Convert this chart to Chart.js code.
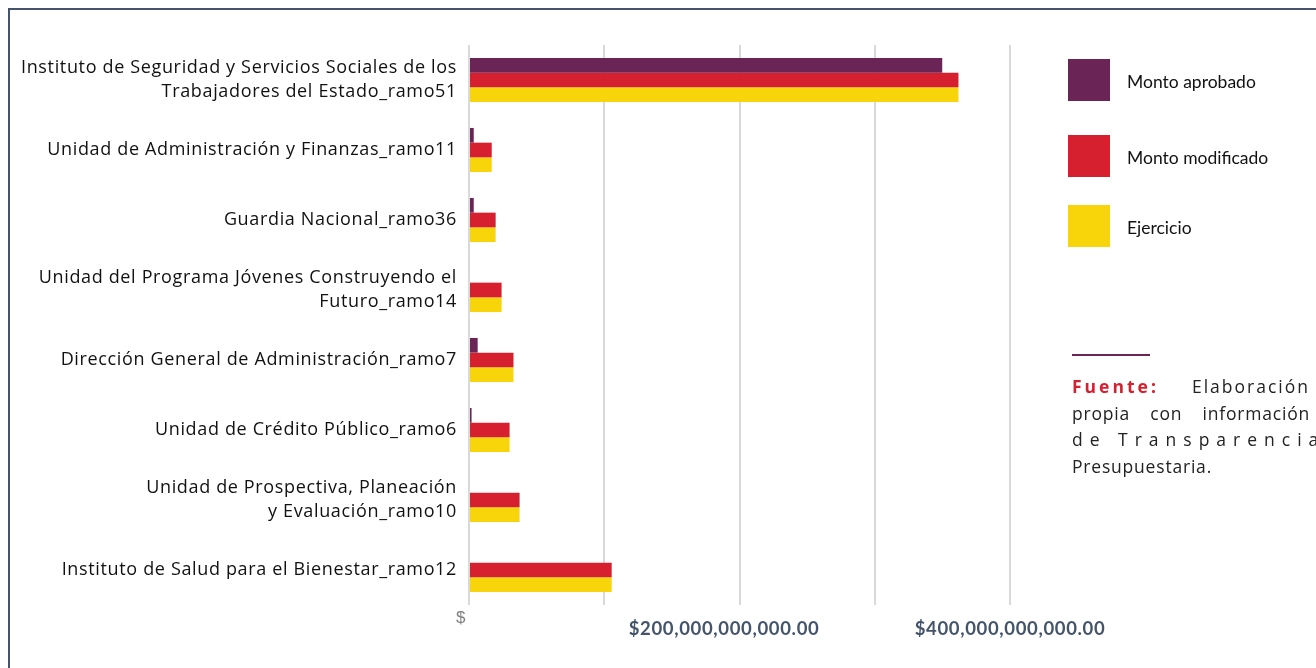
<!DOCTYPE html>
<html>
<head>
<meta charset="utf-8">
<script src="https://cdn.jsdelivr.net/npm/chart.js@4"></script>
<style>
  body { margin: 0; background: #fff; overflow: hidden; }
  #frame { position: absolute; left: 8px; top: 8px; width: 1400px; height: 700px; border: 2px solid #44546a; }
  #wrap { position: absolute; left: 0; top: 0; width: 1316px; height: 668px; }
  .leg { position: absolute; left: 1068px; font-family: Lato, sans-serif; font-size: 17.5px; color: #111; }
  .leg span { position: absolute; width: 42px; height: 42px; left: 0; top: 0; }
  .leg b { position: absolute; left: 59px; top: 12px; font-weight: normal; white-space: nowrap; }
  #rule { position: absolute; left: 1072px; top: 354px; width: 78px; height: 2px; background: #6b2456; }
  #note { position: absolute; left: 1072px; top: 373px; width: 238px; font-family: "Open Sans", sans-serif; font-size: 17.5px; line-height: 26.5px; color: #222; letter-spacing: 0.8px; }
  #note div { text-align: justify; text-align-last: justify; white-space: nowrap; }
  #note .last { text-align-last: left; }
</style>
</head>
<body>
<div id="frame"></div>
<div id="wrap"><canvas id="mycanvas" width="1316" height="668"></canvas></div>
<div class="leg" style="top:59px"><span style="background:#6b2456"></span><b>Monto aprobado</b></div>
<div class="leg" style="top:135px"><span style="background:#d6202f"></span><b>Monto modificado</b></div>
<div class="leg" style="top:205px"><span style="background:#f8d50a"></span><b>Ejercicio</b></div>
<div id="rule"></div>
<div id="note">
  <div><span style="color:#d6202f;font-weight:bold;letter-spacing:3px">Fuente:</span> <span style="letter-spacing:2px">Elaboración</span></div>
  <div>propia con información</div>
  <div style="letter-spacing:7px">de Transparencia</div>
  <div class="last">Presupuestaria.</div>
</div>
<script>
var categories = [
  ['Instituto de Seguridad y Servicios Sociales de los', 'Trabajadores del Estado_ramo51'],
  'Unidad de Administración y Finanzas_ramo11',
  'Guardia Nacional_ramo36',
  ['Unidad del Programa Jóvenes Construyendo el', 'Futuro_ramo14'],
  'Dirección General de Administración_ramo7',
  'Unidad de Crédito Público_ramo6',
  ['Unidad de Prospectiva, Planeación', 'y Evaluación_ramo10'],
  'Instituto de Salud para el Bienestar_ramo12'
];
var montoAprobado = [349.9e9, 3.5e9, 3.5e9, 0, 6.4e9, 1.9e9, 0, 0];
var montoModificado = [361.9e9, 16.8e9, 19.7e9, 24.1e9, 32.9e9, 30.0e9, 37.4e9, 105.5e9];
var ejercicio = [361.9e9, 16.8e9, 19.7e9, 24.1e9, 32.9e9, 30.0e9, 37.4e9, 105.5e9];
// trailing spaces nudge the labels left like in the original
var xTickLabels = ['$   ', '', '$200,000,000,000.00      ', '', '$400,000,000,000.00'];

// wider text spacing to mimic the original typeface
var spacing = {
  id: 'spacing',
  beforeDraw: function(chart) { chart.ctx.letterSpacing = '0.65px'; }
};

var ctx = document.getElementById('mycanvas');
var myChart = new Chart(ctx, {
  type: 'bar',
  data: {
    labels: categories,
    datasets: [
      { label: 'Monto aprobado', data: montoAprobado, backgroundColor: '#6b2456' },
      { label: 'Monto modificado', data: montoModificado, backgroundColor: '#d6202f' },
      { label: 'Ejercicio', data: ejercicio, backgroundColor: '#f8d50a' }
    ]
  },
  plugins: [spacing],
  options: {
    indexAxis: 'y',
    responsive: false,
    animation: false,
    barPercentage: 1,
    categoryPercentage: 0.63,
    layout: { padding: { left: 20, top: 45, right: 306, bottom: 0 } },
    plugins: { legend: { display: false }, tooltip: { enabled: false } },
    scales: {
      x: {
        min: 0,
        max: 400e9,
        afterFit: function(s) { s.height = 63; },
        ticks: {
          stepSize: 100e9,
          autoSkip: false,
          maxRotation: 0,
          padding: 0,
          color: function(c) { return c.index === 0 ? '#7f7f7f' : '#44546a'; },
          font: function(c) {
            return c.index === 0
              ? { family: 'Liberation Sans', size: 17, lineHeight: 1.55 }
              : { family: 'Lato', size: 18.5, weight: 'bold', lineHeight: 0.86 };
          },
          callback: function(v, i) { return i === 0 ? xTickLabels[i] : ['', xTickLabels[i]]; }
        },
        grid: { color: '#d9d9d9', lineWidth: 2, drawTicks: false },
        border: { display: false }
      },
      y: {
        afterFit: function(s) { s.width = 449; },
        ticks: {
          color: '#111',
          padding: 4,
          font: { family: 'Open Sans', size: 18, lineHeight: 1.3 }
        },
        grid: { display: false },
        border: { display: false }
      }
    }
  }
});
</script>
</body>
</html>
